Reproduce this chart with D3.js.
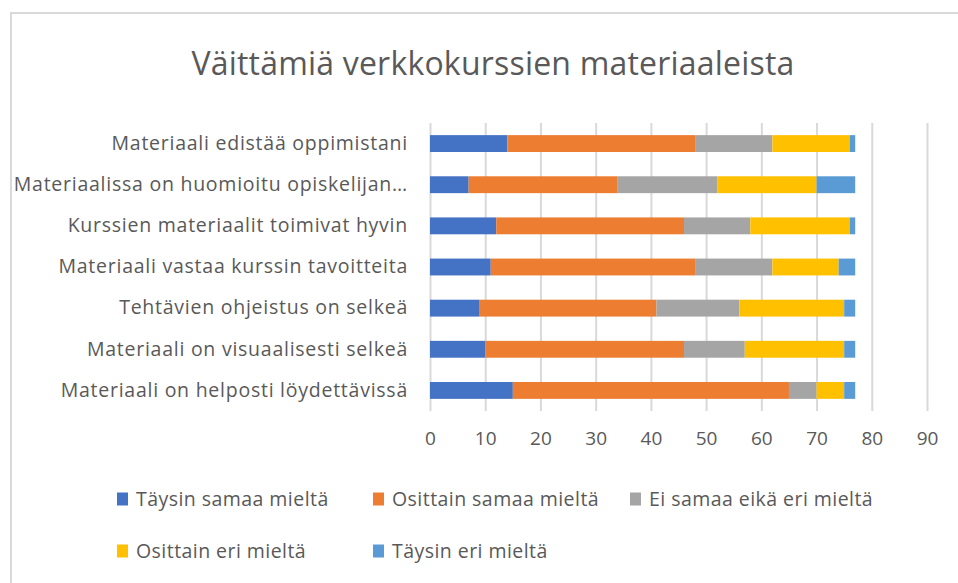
<!DOCTYPE html>
<html lang="fi">
  <head>
    <meta charset="UTF-8" />
    <title>Väittämiä verkkokurssien materiaaleista</title>
    <script src="https://cdn.jsdelivr.net/npm/d3@7/dist/d3.min.js"></script>
    <style>
      body {
        margin: 0;
        background: #ffffff;
        font-family: "Open Sans", sans-serif;
      }
      svg text {
        fill: #595959;
      }
    </style>
  </head>
  <body>
    <div id="chart"></div>
    <script>
      // Data
      const categories = [
        "Materiaali edistää oppimistani",
        "Materiaalissa on huomioitu opiskelijan…",
        "Kurssien materiaalit toimivat hyvin",
        "Materiaali vastaa kurssin tavoitteita",
        "Tehtävien ohjeistus on selkeä",
        "Materiaali on visuaalisesti selkeä",
        "Materiaali on helposti löydettävissä",
      ];
      const seriesNames = [
        "Täysin samaa mieltä",
        "Osittain samaa mieltä",
        "Ei samaa eikä eri mieltä",
        "Osittain eri mieltä",
        "Täysin eri mieltä",
      ];
      const taysinSamaa = [14, 7, 12, 11, 9, 10, 15];
      const osittainSamaa = [34, 27, 34, 37, 32, 36, 50];
      const eiSamaaEikaEri = [14, 18, 12, 14, 15, 11, 5];
      const osittainEri = [14, 18, 18, 12, 19, 18, 5];
      const taysinEri = [1, 7, 1, 3, 2, 2, 2];
      const xTicks = [0, 10, 20, 30, 40, 50, 60, 70, 80, 90];
      const colors = ["#4472c4", "#ed7d31", "#a5a5a5", "#ffc000", "#5b9bd5"];

      const values = [taysinSamaa, osittainSamaa, eiSamaaEikaEri, osittainEri, taysinEri];
      const rows = categories.map((c, i) => {
        const r = { category: c };
        seriesNames.forEach((s, j) => (r[s] = values[j][i]));
        return r;
      });

      const W = 958, H = 583;
      const margin = { top: 123, right: 31, bottom: 172, left: 430 };
      const width = W - margin.left - margin.right;
      const height = H - margin.top - margin.bottom;

      const root = d3.select("#chart").append("svg").attr("width", W).attr("height", H);

      // chart frame
      root.append("rect")
        .attr("x", 11).attr("y", 13)
        .attr("width", W + 10).attr("height", H + 10)
        .attr("fill", "none").attr("stroke", "#d9d9d9").attr("stroke-width", 2);

      root.append("text")
        .attr("x", 493).attr("y", 75)
        .attr("text-anchor", "middle")
        .style("font-size", "32px")
        .style("letter-spacing", "0.2px")
        .text("Väittämiä verkkokurssien materiaaleista");

      const svg = root.append("g").attr("transform", `translate(${margin.left},${margin.top})`);

      const x = d3.scaleLinear().domain([0, 90]).range([0, 497]);
      const y = d3.scaleBand().domain(categories).range([0, height]).paddingInner(0.59).paddingOuter(0.295);

      // gridlines + tick labels
      const xAxis = svg.append("g")
        .attr("transform", `translate(0,${height})`)
        .call(d3.axisBottom(x).tickValues(xTicks).tickSizeInner(-height).tickSizeOuter(0).tickPadding(21));
      xAxis.select(".domain").remove();
      xAxis.selectAll(".tick line").attr("stroke", "#d9d9d9").attr("stroke-width", 2);
      xAxis.selectAll(".tick text")
        .style("font-family", '"Open Sans", sans-serif')
        .style("font-size", "19px")
        .attr("fill", "#595959");

      // category labels
      const yAxis = svg.append("g")
        .call(d3.axisLeft(y).tickSize(0).tickPadding(22));
      yAxis.select(".domain").remove();
      yAxis.selectAll(".tick text")
        .style("font-family", '"Open Sans", sans-serif')
        .style("font-size", "19.5px")
        .style("letter-spacing", "0.75px")
        .attr("fill", "#595959");

      const stacked = d3.stack().keys(seriesNames)(rows);

      svg.append("g").selectAll("g")
        .data(stacked)
        .join("g")
        .attr("fill", (d, i) => colors[i])
        .selectAll("rect")
        .data((d) => d)
        .join("rect")
        .attr("x", (d) => x(d[0]))
        .attr("y", (d) => y(d.data.category))
        .attr("width", (d) => x(d[1]) - x(d[0]))
        .attr("height", y.bandwidth());

      // legend
      const legendPos = [
        [117, 499], [373, 499], [630, 499],
        [117, 551], [373, 551],
      ];
      const legend = root.append("g").selectAll("g")
        .data(seriesNames)
        .join("g")
        .attr("transform", (d, i) => `translate(${legendPos[i][0]},${legendPos[i][1]})`);
      legend.append("rect")
        .attr("x", 0).attr("y", -6.5).attr("width", 11).attr("height", 13)
        .attr("fill", (d, i) => colors[i]);
      legend.append("text")
        .attr("x", 19).attr("dy", "0.35em")
        .style("font-size", "19.5px")
        .style("letter-spacing", "0.45px")
        .text((d) => d);
    </script>
  </body>
</html>
